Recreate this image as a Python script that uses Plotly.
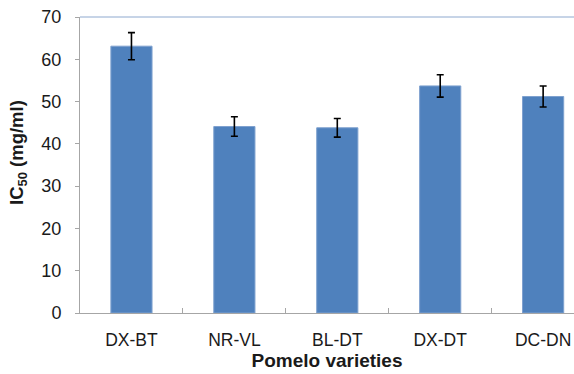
import plotly.graph_objects as go

varieties = ["DX-BT", "NR-VL", "BL-DT", "DX-DT", "DC-DN"]
ic50 = [63.1, 44.1, 43.8, 53.7, 51.2]
sd = [3.2, 2.3, 2.2, 2.65, 2.5]
y_ticks = [0, 10, 20, 30, 40, 50, 60, 70]

fig = go.Figure()
fig.add_trace(go.Bar(
    x=varieties, y=ic50,
    marker=dict(color="#4F81BD", line=dict(color="#7EA1CF", width=1)),
    error_y=dict(type="data", array=sd, visible=True, color="#000000",
                 thickness=1.6, width=3.5),
    width=0.4,
))

fig.update_layout(
    width=574, height=374,
    margin=dict(l=80, r=0, t=17, b=61),
    paper_bgcolor="white", plot_bgcolor="white",
    showlegend=False,
    font=dict(family="Liberation Sans, Arial", color="#1a1a1a"),
    xaxis=dict(
        range=[-0.5, 4.3],
        showline=True, linecolor="#A6A6A6", linewidth=1,
        ticks="inside", ticklen=5, tickcolor="#A6A6A6", tickson="boundaries",
        tickfont=dict(size=17.5),
        ticklabelstandoff=11,
        title=dict(text="<b>Pomelo varieties</b>", font=dict(size=19), standoff=4),
        showgrid=False, zeroline=False, automargin=False,
    ),
    yaxis=dict(
        range=[0, 70],
        tickvals=y_ticks,
        showline=True, linecolor="#A6A6A6", linewidth=1,
        ticks="outside", ticklen=4, tickcolor="#A6A6A6",
        tickfont=dict(size=18),
        ticklabelstandoff=10,
        showgrid=False, zeroline=False, automargin=False,
    ),
    annotations=[dict(
        text="<b>IC<sub>50</sub> (mg/ml)</b>", textangle=-90,
        xref="paper", yref="paper", x=(18 - 80) / 494, y=(313 - 153) / 296,
        xanchor="center", yanchor="middle", showarrow=False,
        font=dict(size=18.5, color="#1a1a1a"),
    )],
)

fig.add_shape(type="line", xref="paper", yref="paper", x0=0, x1=1, y0=1, y1=1,
              line=dict(color="#8EA9CF", width=1))

fig.write_html("out.html", config={"displayModeBar": False},
               post_script="document.body.style.margin='0';document.body.style.overflow='hidden';")
